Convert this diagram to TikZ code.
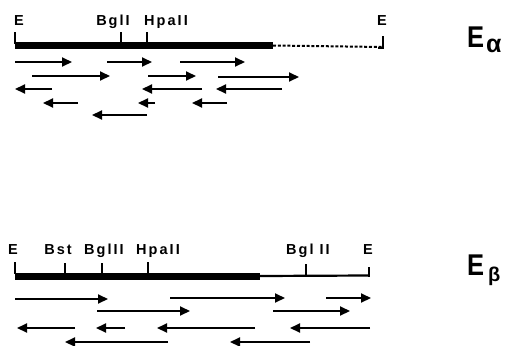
\documentclass[tikz,border=0pt]{standalone}
\usepackage{fontspec}
\setmainfont{Liberation Sans}
\usetikzlibrary{arrows.meta}
\begin{document}
\begin{tikzpicture}[x=1pt,y=-1pt,
  frag/.style={line width=2.1pt,-{Triangle[length=10pt,width=9pt]}},
  thickbar/.style={line width=7pt},
  thinbar/.style={line width=2.2pt},
  tick/.style={line width=1.8pt},
  site/.style={anchor=base,inner sep=0pt,font=\fontsize{14.5}{15}\bfseries\addfontfeature{LetterSpace=14}},
  big/.style={anchor=base west,inner sep=0pt,xscale=0.85,font=\fontsize{30}{30}\bfseries},
  sub/.style={anchor=base west,inner sep=0pt,font=\fontsize{25}{25}\bfseries}]
\useasboundingbox (0,0) rectangle (507,346);
% ---------- E alpha ----------
\coordinate (a0) at (15,45.5);
\coordinate (a1) at (273,45.5);
\coordinate (a2) at (383,47);
\draw[thickbar] (a0) -- (a1);
\draw[line width=2pt,dash pattern=on 3pt off 1.8pt] (a1) -- (a2);
\draw[tick] (15,32) -- (15,44);
\draw[tick] (121,32) -- (121,43);
\draw[tick] (147,32) -- (147,43);
\draw[tick] (383,36) -- (383,47.9) -- (378,47.9);
\node[site] (lE1) at (19,25) {E};
\node[site] (lB1) at (113,25) {BglI};
\node[site] (lH1) at (166,25) {HpaII};
\node[site] (lE2) at (382,25) {E};
\node[big] (Ea) at (467,47) {E};
\node[sub] (al) at (486,52) {α};
% fragments
\draw[frag] (15,62) -- (72,62);
\draw[frag] (107,62) -- (152,62);
\draw[frag] (180,62) -- (245,62);
\draw[frag] (32,76) -- (110,76);
\draw[frag] (148,76) -- (196,76);
\draw[frag] (218,77) -- (299,77);
\draw[frag] (52,89) -- (15,89);
\draw[frag] (202,89) -- (142,89);
\draw[frag] (282,89) -- (216,89);
\draw[frag] (78,103) -- (43,103);
\draw[frag] (155,103) -- (138,103);
\draw[frag] (227,103) -- (192,103);
\draw[frag] (147,115) -- (92,115);
% ---------- E beta ----------
\coordinate (b0) at (15,276);
\coordinate (b1) at (260,276);
\coordinate (b2) at (369,275.5);
\draw[thickbar] (b0) -- (b1);
\draw[thinbar] (b1) -- (b2);
\draw[tick] (15,262) -- (15,274);
\draw[tick] (65,263) -- (65,274);
\draw[tick] (102,263) -- (102,274);
\draw[tick] (148,262) -- (148,274);
\draw[tick] (306,264) -- (306,275);
\draw[tick] (369,267) -- (369,277) ;
\node[site] (lE3) at (13,254) {E};
\node[site] (lBs) at (58,254) {Bst};
\node[site] (lB2) at (104,254) {BglII};
\node[site] (lH2) at (158,254) {HpaII};
\node[site] (lB3) at (308,254) {Bgl II};
\node[site] (lE4) at (368,254) {E};
\node[big] (Eb) at (467,275) {E};
\node[sub,font=\fontsize{20}{20}\bfseries] (be) at (488,281) {β};
% fragments
\draw[frag] (15,299) -- (108,299);
\draw[frag] (170,298) -- (285,298);
\draw[frag] (326,298) -- (371,298);
\draw[frag] (97,311) -- (190,311);
\draw[frag] (273,311) -- (350,311);
\draw[frag] (75,328) -- (17,328);
\draw[frag] (125,328) -- (96,328);
\draw[frag] (255,328) -- (157,328);
\draw[frag] (370,328) -- (290,328);
\draw[frag] (168,342) -- (65,342);
\draw[frag] (310,342) -- (230,342);
\end{tikzpicture}
\end{document}
